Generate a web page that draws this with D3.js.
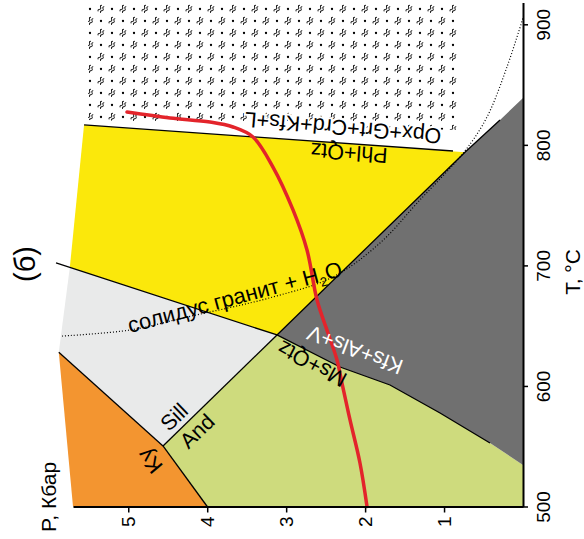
<!DOCTYPE html>
<html>
<head>
<meta charset="utf-8">
<script src="https://cdn.jsdelivr.net/npm/d3@7/dist/d3.min.js"></script>
<style>
  body { margin: 0; background: #fff; }
  svg { display: block; font-family: "Liberation Sans", Arial, sans-serif; }
</style>
</head>
<body>
<div class="chart"></div>
<script>
// P-T diagram drawn turned on its side: T runs up the right edge, P runs right-to-left along the bottom.
// every curve below is a list of [T (°C), P (kbar)] pairs

const tTicks = [500, 600, 700, 800, 900];
const pTicks = [1, 2, 3, 4, 5];

const leftEdge = [[816.5, 5.56], [698.5, 5.74], [628, 5.88], [500, 5.70]];
const opxLine = [[816.5, 5.56], [794.9, 0.887]];
const yellowTip = [793.9, 0.735];
const phlLine = [[642.3, 3.116], [793.9, 0.735], [820.6, 0.291]];
const phlEnd = [838.9, 0];
const msLine = [[702.0, 5.915], [642.3, 3.116], [615.7, 2.318], [600.8, 1.685], [577.6, 1.051], [552.7, 0.418]];
const msEnd = [534.4, 0];
const kySill = [[628, 5.88], [550.2, 4.56]];
const kyAnd = [[550.2, 4.56], [500, 4.0]];
const sillAnd = [[550.2, 4.56], [642.3, 3.116]];
const solidus = [[641.4, 5.839], [646.4, 4.978], [656.4, 4.307], [673.8, 3.167], [690.4, 2.407],
  [718.6, 1.811], [754.3, 1.305], [795.0, 0.735], [823.1, 0.456], [864.6, 0.203], [905.2, 0]];
const ptPath = [[827.2, 5.016], [822.3, 4.471], [818.9, 3.965], [814.8, 3.673], [806.5, 3.42],
  [781.6, 3.167], [746.0, 2.913], [712.8, 2.736], [671.3, 2.609], [643.9, 2.47], [621.5, 2.356],
  [602.4, 2.293], [571.8, 2.191], [536.1, 2.065], [500, 1.976]];
const meltZone = [[917.6, 5.51], [917.6, 0.823], [812.3, 0.823], [820.6, 5.51]];

const WIDTH = 584, HEIGHT = 539;
const svg = d3.select('.chart').append('svg').attr('width', WIDTH).attr('height', HEIGHT);

const xP = d3.scaleLinear().domain([0, 5.7]).range([523, 73]);
const yT = d3.scaleLinear().domain([500, 918]).range([506.5, 2.6]);

const line = d3.line().x(d => xP(d[1])).y(d => yT(d[0]));
const smooth = d3.line().x(d => xP(d[1])).y(d => yT(d[0])).curve(d3.curveCatmullRom);

// texture for the melt field: dots and little rotated "≈" squiggles
const defs = svg.append('defs');
const pat = defs.append('pattern')
  .attr('id', 'melt')
  .attr('patternUnits', 'userSpaceOnUse')
  .attr('x', 84).attr('y', 3)
  .attr('width', 22).attr('height', 24);
[[6, 6], [17, 18]].forEach(p => {
  pat.append('circle').attr('cx', p[0]).attr('cy', p[1]).attr('r', 1.15).attr('fill', '#000');
});
[[17, 6], [6, 18]].forEach(p => {
  pat.append('path')
    .attr('transform', 'translate(' + p[0] + ',' + p[1] + ') rotate(-60)')
    .attr('d', 'M-3.5,-1.2 q1.2,-1.6 2.4,0 t2.4,0 t2.4,0 M-3.5,1.6 q1.2,-1.6 2.4,0 t2.4,0 t2.4,0')
    .attr('fill', 'none')
    .attr('stroke', '#000')
    .attr('stroke-width', 0.9);
});

svg.append('path').attr('d', line(meltZone) + 'Z').attr('fill', 'url(#melt)');

// fields
const fields = [
  {pts: [kySill[0], kySill[1], kyAnd[1], leftEdge[3]], fill: '#f39530'},
  {pts: [kySill[0], sillAnd[0], sillAnd[1], leftEdge[1]], fill: '#e9eaea'},
  {pts: [sillAnd[0]].concat(msLine.slice(1), [msEnd, [500, 0], kyAnd[1]]), fill: '#cedb7d'},
  {pts: phlLine.concat([phlEnd, msEnd], msLine.slice(1).reverse()), fill: '#707070'},
  {pts: [opxLine[0], yellowTip, phlLine[0], leftEdge[1]], fill: '#fbe80b'}
];
svg.selectAll('.field')
  .data(fields)
  .enter()
  .append('path')
  .attr('class', 'field')
  .attr('d', d => line(d.pts) + 'Z')
  .attr('fill', d => d.fill);

// reaction lines
[opxLine, phlLine, msLine, kySill, kyAnd, sillAnd].forEach(l => {
  svg.append('path')
    .attr('d', line(l))
    .attr('fill', 'none')
    .attr('stroke', '#000')
    .attr('stroke-width', 1.3);
});

svg.append('path')
  .attr('d', smooth(solidus))
  .attr('fill', 'none')
  .attr('stroke', '#000')
  .attr('stroke-width', 1.2)
  .attr('stroke-dasharray', '1,2');

svg.append('path')
  .attr('d', smooth(ptPath))
  .attr('fill', 'none')
  .attr('stroke', '#e3242b')
  .attr('stroke-width', 3.5)
  .attr('stroke-linecap', 'round');

// axes
const pAxis = d3.axisBottom(xP).tickValues(pTicks).tickSize(6).tickSizeOuter(0).tickFormat(d3.format('d'));
const pg = svg.append('g').attr('transform', 'translate(0,506.5)').call(pAxis);
pg.select('.domain').attr('stroke-width', 2);
pg.selectAll('.tick line').attr('stroke-width', 1.5);
pg.selectAll('.tick text')
  .attr('x', -10).attr('y', 0).attr('dy', '0.35em')
  .attr('transform', 'rotate(-90)')
  .style('text-anchor', 'end')
  .style('font-size', '19px')
  .style('font-family', '"Liberation Sans", Arial, sans-serif')
  .attr('fill', '#000');

const tAxis = d3.axisRight(yT).tickValues(tTicks).tickSize(5).tickSizeOuter(0);
const tg = svg.append('g').attr('transform', 'translate(523,0)').call(tAxis);
tg.select('.domain').attr('stroke-width', 2);
tg.selectAll('.tick line').attr('stroke-width', 1.5);
tg.selectAll('.tick text')
  .attr('x', 0).attr('y', 0).attr('dy', '0.35em')
  .attr('transform', 'translate(20,0) rotate(-90)')
  .style('text-anchor', 'middle')
  .style('font-size', '19px')
  .style('font-family', '"Liberation Sans", Arial, sans-serif')
  .attr('fill', '#000');

// labels
function label(txt, x, y, angle, size, opts) {
  opts = opts || {};
  const t = svg.append('text')
    .attr('transform', 'translate(' + x + ',' + y + ') rotate(' + angle + ')')
    .attr('text-anchor', opts.anchor || 'middle')
    .attr('dy', '0.35em')
    .style('font-size', size + 'px')
    .attr('fill', opts.fill || '#000')
    .text(txt);
  if (opts.halo) {
    t.attr('stroke', '#fff').attr('stroke-width', 4).attr('paint-order', 'stroke');
  }
  return t;
}

label('P, Кбар', 49, 497, -90, 21);
label('T, °C', 573, 272, -90, 21);
label('(б)', 25, 264, -90, 29);

label('Opx+Grt+Crd+Kfs+L', 343, 128, 185, 21.5, {halo: true});
label('Phl+Qtz', 349, 153, 184, 21.5);
label('Ms+Qtz', 312, 364, 208, 21.5);
label('Kfs+Als+V', 355, 350, 201, 21.5, {fill: '#fff'});
label('Sill', 174, 417, -44, 21.5);
label('And', 197, 431, -44, 21.5);
label('Ky', 150, 461, 230, 21.5);

const sol = svg.append('text')
  .attr('transform', 'translate(130,333) rotate(-15)')
  .style('font-size', '22px')
  .attr('fill', '#000');
sol.append('tspan').text('солидус гранит + H');
sol.append('tspan').attr('dy', 5).style('font-size', '13px').text('2');
sol.append('tspan').attr('dy', -5).text('O');
</script>
</body>
</html>
